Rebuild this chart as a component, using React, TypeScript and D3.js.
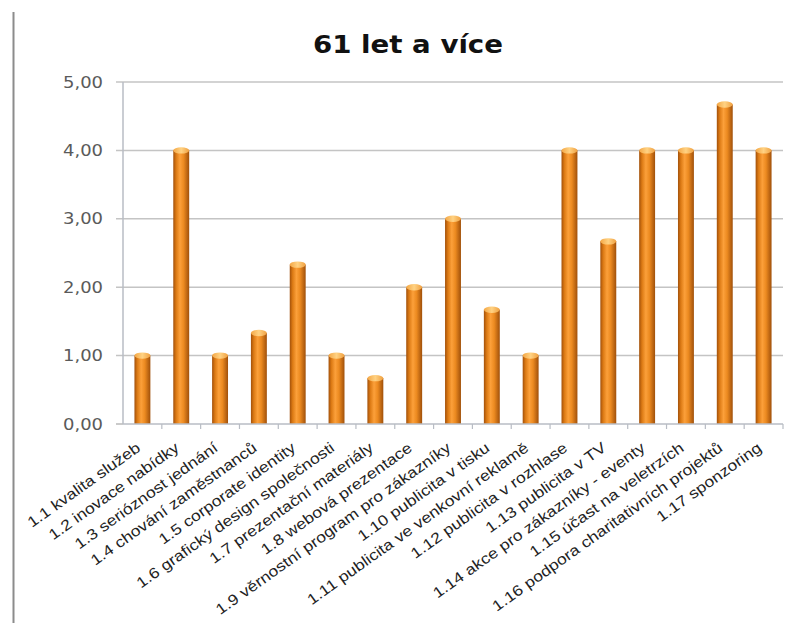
import React from "react";
import * as d3 from "d3";

const categories: string[] = [
  "1.1 kvalita služeb",
  "1.2 inovace nabídky",
  "1.3 serióznost jednání",
  "1.4 chování zaměstnanců",
  "1.5 corporate identity",
  "1.6 grafický design společnosti",
  "1.7 prezentační materiály",
  "1.8 webová prezentace",
  "1.9 věrnostní program pro zákazníky",
  "1.10 publicita v tisku",
  "1.11 publicita ve venkovní reklamě",
  "1.12 publicita v rozhlase",
  "1.13 publicita v TV",
  "1.14 akce pro zákazníky - eventy",
  "1.15 účast na veletrzích",
  "1.16 podpora charitativních projektů",
  "1.17 sponzoring",
];

const values: number[] = [1, 4, 1, 1.33, 2.33, 1, 0.67, 2, 3, 1.67, 1, 4, 2.67, 4, 4, 4.67, 4];

const yTicks: number[] = [0, 1, 2, 3, 4, 5];
const title = "61 let a více";

const W = 792;
const H = 623;
const left = 123;
const right = 783;
const top = 82;
const bottom = 424;

export default function App() {
  const x = d3.scaleBand<string>().domain(categories).range([left, right]).padding(0);
  const y = d3.scaleLinear().domain([0, 5]).range([bottom, top]);
  const step = x.step();
  const bw = step * 0.41;
  const fmt = (v: number) => v.toFixed(2).replace(".", ",");

  return (
    <svg
      width={W}
      height={H}
      style={{ position: "absolute", left: 0, top: 0, background: "#fff" }}
    >
      <defs>
        <linearGradient id="cyl" x1="0" x2="1" y1="0" y2="0">
          <stop offset="0%" stopColor="#a2500a" />
          <stop offset="18%" stopColor="#dc7a14" />
          <stop offset="42%" stopColor="#fca03a" />
          <stop offset="65%" stopColor="#ec8a20" />
          <stop offset="100%" stopColor="#a0500a" />
        </linearGradient>
        <linearGradient id="cap" x1="0" x2="1" y1="0" y2="0">
          <stop offset="0%" stopColor="#f4a745" />
          <stop offset="50%" stopColor="#ffd283" />
          <stop offset="100%" stopColor="#f0a040" />
        </linearGradient>
      </defs>

      {/* outer left border */}
      <line x1={13.5} x2={13.5} y1={12} y2={H} stroke="#8c8c8c" strokeWidth={2} />

      {/* title */}
      <text
        x={408}
        y={53}
        textAnchor="middle"
        fontFamily="DejaVu Sans, Verdana, sans-serif"
        fontWeight="bold"
        fontSize={24}
        textLength={190}
        lengthAdjust="spacingAndGlyphs"
        fill="#111"
      >
        {title}
      </text>

      {/* gridlines and y ticks */}
      {yTicks.map((t) => (
        <g key={t}>
          {t > 0 && (
            <line x1={left - 7} x2={right} y1={y(t)} y2={y(t)} stroke="#c4c4c4" strokeWidth={1.5} />
          )}
          {t === 0 && <line x1={left - 7} x2={left} y1={y(t)} y2={y(t)} stroke="#b8b8b8" strokeWidth={1.5} />}
          <text
            x={left - 20}
            y={y(t)}
            dy="0.36em"
            textAnchor="end"
            fontFamily="DejaVu Sans, Verdana, sans-serif"
            fontSize={15.5}
            textLength={40}
            lengthAdjust="spacingAndGlyphs"
            fill="#5a5a5a"
          >
            {fmt(t)}
          </text>
        </g>
      ))}

      {/* y axis line */}
      <line x1={left} x2={left} y1={top} y2={bottom} stroke="#b8bcc4" strokeWidth={1.5} />

      {/* bars */}
      {categories.map((c, i) => {
        const cx = (x(c) as number) + step / 2;
        const y0 = y(0);
        const y1 = y(values[i]);
        return (
          <g key={c}>
            <rect x={cx - bw / 2} y={y1} width={bw} height={y0 - y1} fill="url(#cyl)" />
            <ellipse cx={cx} cy={y1} rx={bw / 2} ry={3.2} fill="url(#cap)" />
          </g>
        );
      })}

      {/* x axis */}
      <line x1={left} x2={right} y1={bottom} y2={bottom} stroke="#b8bcc4" strokeWidth={1.5} />
      {categories.map((c) => (
        <line
          key={"t" + c}
          x1={(x(c) as number) + step}
          x2={(x(c) as number) + step}
          y1={bottom}
          y2={bottom + 5}
          stroke="#b8bcc4"
          strokeWidth={1.2}
        />
      ))}

      {/* category labels */}
      {categories.map((c) => {
        const cx = (x(c) as number) + step / 2 - 1;
        return (
          <text
            key={"l" + c}
            transform={`translate(${cx},${bottom + 26}) rotate(-35.5) scale(1.17,1)`}
            textAnchor="end"
            fontFamily="Liberation Sans, Arial, sans-serif"
            fontSize={15}
            fill="#222"
          >
            {c}
          </text>
        );
      })}
    </svg>
  );
}
